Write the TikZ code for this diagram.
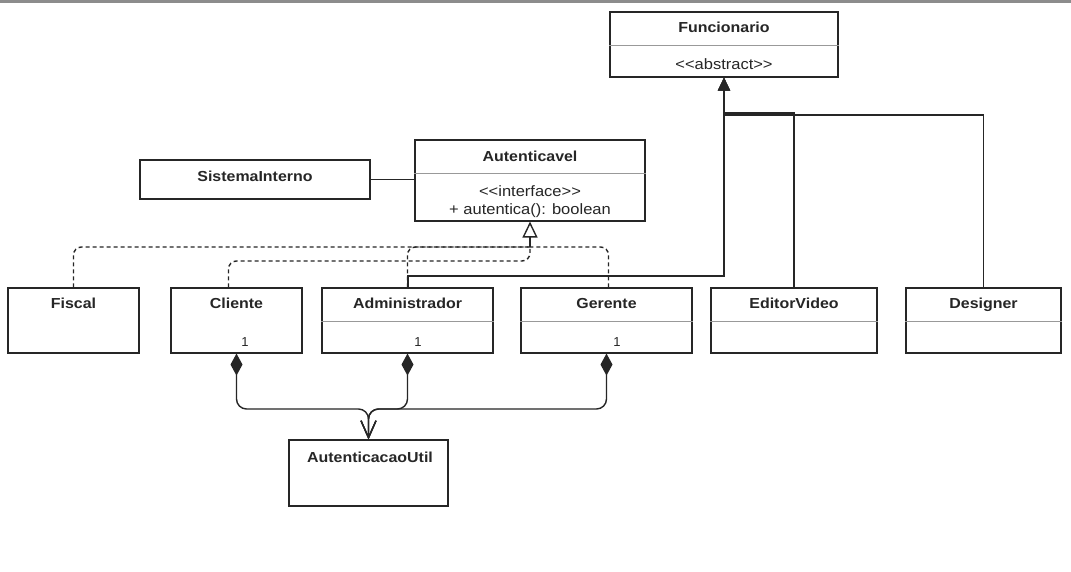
\documentclass[tikz,border=0pt]{standalone}
\usepackage{fontspec}
\setmainfont{Liberation Sans}
\usetikzlibrary{arrows.meta}
% slightly widened lettering, as in the class boxes
\newcommand{\wide}[1]{\scalebox{1.1}[1]{#1}}

\begin{document}
\begin{tikzpicture}[x=1pt,y=-1pt,
  cls/.style={draw=black!85, line width=1.1pt, fill=white, inner sep=0pt},
  ttl/.style={font=\fontsize{14.5}{17}\selectfont\bfseries, text=black!85, inner sep=0pt,
    text height=10.5pt, text depth=0pt},
  txt/.style={font=\fontsize{15}{17}\selectfont, text=black!85, inner sep=0pt,
    text height=10.5pt, text depth=0pt},
  mult/.style={font=\fontsize{13}{15}\selectfont, text=black!85, inner sep=0pt},
  sep/.style={draw=black!40, line width=0.7pt},
  link/.style={draw=black!85, line width=1.4pt},
  real/.style={link, dash pattern=on 4pt off 3pt, rounded corners=8pt},
  gen/.style={link, -{Triangle[length=13pt,width=12pt]}},
  comp/.style={link, rounded corners=10pt,
    {Diamond[length=22pt,width=12pt]}-{Straight Barb[length=17pt,width=15pt]}}
]
\useasboundingbox (0,0) rectangle (1071,571);
\fill[white] (0,0) rectangle (1071,571);
\fill[black!45] (0,0) rectangle (1071,2.5);

% class boxes
\node[cls, minimum width=228pt, minimum height=65pt] (fun) at (724,44.5) {};
\node[cls, minimum width=230pt, minimum height=81pt] (aut) at (530,180.5) {};
\node[cls, minimum width=230pt, minimum height=39pt] (sis) at (255,179.5) {};
\node[cls, minimum width=131pt, minimum height=65pt] (fis) at (73.5,320.5) {};
\node[cls, minimum width=131pt, minimum height=65pt] (cli) at (236.5,320.5) {};
\node[cls, minimum width=171pt, minimum height=65pt] (adm) at (407.5,320.5) {};
\node[cls, minimum width=171pt, minimum height=65pt] (ger) at (606.5,320.5) {};
\node[cls, minimum width=166pt, minimum height=65pt] (edi) at (794,320.5) {};
\node[cls, minimum width=155pt, minimum height=65pt] (des) at (983.5,320.5) {};
\node[cls, minimum width=159pt, minimum height=66pt] (util) at (368.5,473) {};

% compartment separators
\draw[sep] (fun.west |- 0,45) -- (fun.east |- 0,45);
\draw[sep] (aut.west |- 0,173) -- (aut.east |- 0,173);
\foreach \b in {adm,ger,edi,des}
  \draw[sep] (\b.west |- 0,321) -- (\b.east |- 0,321);

% names and compartments
\node[ttl] (fun-t) at (724,27) {\wide{Funcionario}};
\node[txt] (fun-s) at (724,64) {\wide{<{}<abstract>{}>}};
\node[ttl] (aut-t) at (530,156) {\wide{Autenticavel}};
\node[txt] (aut-s) at (530,191) {\wide{<{}<interface>{}>}};
\node[txt] (aut-m) at (530,209) {\wide{+ autentica(): boolean}};
\node[ttl] (sis-t) at (255,176) {\wide{SistemaInterno}};
\node[ttl] (fis-t) at (73.5,303) {\wide{Fiscal}};
\node[ttl] (cli-t) at (236.5,303) {\wide{Cliente}};
\node[ttl] (adm-t) at (407.5,303) {\wide{Administrador}};
\node[ttl] (ger-t) at (606.5,303) {\wide{Gerente}};
\node[ttl] (edi-t) at (794,303) {\wide{EditorVideo}};
\node[ttl] (des-t) at (983.5,303) {\wide{Designer}};
\node[ttl] (util-t) at (370,457) {\wide{AutenticacaoUtil}};

% multiplicities
\node[mult] (cli-m) at (245,342) {1};
\node[mult] (adm-m) at (418,342) {1};
\node[mult] (ger-m) at (617,342) {1};

% junction points
\coordinate (rj) at (530,247);
\coordinate (cl) at (530,261);
\coordinate (fj) at (724,276);
\coordinate (ej) at (724,113);
\coordinate (dj) at (724,115);
\coordinate (cj) at (368.5,409);

% association
\draw[link] (sis.east) -- (aut.west |- sis.east);

% realizations of Autenticavel
\draw[real] (fis.north) |- (rj);
\draw[real] ([xshift=-8pt]cli.north) |- (cl) -- (rj);
\draw[real] (adm.north) |- (rj);
\draw[real] ([xshift=2pt]ger.north) |- (rj);
\draw[link, -{Triangle[open,length=16pt,width=15pt]}] (rj) -- (aut.south);

% generalizations of Funcionario
\draw[gen, line width=2pt] (adm.north) |- (fj) -- (fun.south);
\draw[gen] (edi.north) |- (ej) -- (fun.south);
\draw[gen] (des.north) |- (dj) -- (fun.south);

% compositions with AutenticacaoUtil
\draw[comp] (cli.south) |- (cj) -- (util.north);
\draw[comp] (adm.south) |- (cj) -- (util.north);
\draw[comp] (ger.south) |- (cj) -- (util.north);
\end{tikzpicture}
\end{document}
